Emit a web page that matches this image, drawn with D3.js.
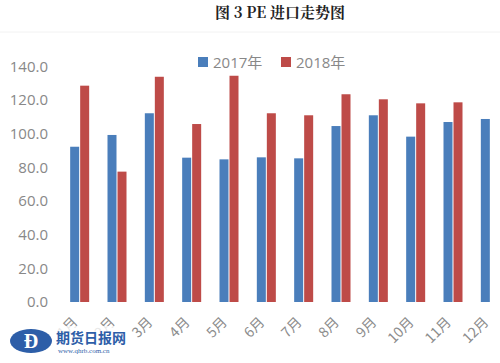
<!DOCTYPE html>
<html><head><meta charset="utf-8">
<script src="https://cdn.jsdelivr.net/npm/d3@7"></script>
<style>body{margin:0;background:#fff}svg{display:block}</style>
</head><body>
<svg id="c" width="500" height="363"></svg>
<script>
const months = ["1月","2月","3月","4月","5月","6月","7月","8月","9月","10月","11月","12月"];
const series2017 = [92.3,99.3,112.2,85.8,84.8,86.0,85.4,104.6,111.0,98.3,107.0,108.8];
const series2018 = [128.6,77.5,133.9,105.8,134.5,112.2,111.0,123.5,120.5,118.1,118.7,null];
const yTicks = [0,20,40,60,80,100,120,140];
const seriesNames = ["2017年","2018年"];
const colors = ["#4a7ebb","#be4b48"];

const svg = d3.select("#c");
const x = d3.scaleBand().domain(months).range([61,509]).paddingInner(0).paddingOuter(0);
const y = d3.scaleLinear().domain([0,140]).range([302,66.5]);
const bw = 9, gap = 1;

svg.append("text").attr("x",280).attr("y",18).attr("text-anchor","middle")
  .attr("font-family","'Noto Serif CJK SC','Noto Sans CJK SC',serif").attr("font-weight","bold")
  .attr("font-size",15).attr("fill","#222").text("图 3 PE 进口走势图");
svg.append("line").attr("x1",0).attr("x2",500).attr("y1",32).attr("y2",32).attr("stroke","#f2f2f2");

const yAxis = d3.axisLeft(y).tickValues(yTicks).tickFormat(d3.format(".1f")).tickSize(0).tickPadding(0);
const ga = svg.append("g").attr("transform","translate(48,0)").call(yAxis);
ga.select(".domain").remove();
ga.selectAll("text").attr("font-family","'Open Sans','Liberation Sans',sans-serif").attr("font-size",15).attr("fill","#888");

const g = svg.append("g");
months.forEach((m,i)=>{
  const c = x(m)+x.bandwidth()/2;
  [series2017[i],series2018[i]].forEach((v,k)=>{
    if(v==null) return;
    g.append("rect").attr("x", k===0 ? c-bw-gap/2 : c+gap/2).attr("width",bw)
      .attr("y",y(v)).attr("height",y(0)-y(v)).attr("fill",colors[k]);
  });
});

const xAxis = d3.axisBottom(x).tickSize(0).tickPadding(0);
const gx = svg.append("g").attr("transform","translate(0,302)").call(xAxis);
gx.select(".domain").remove();
gx.selectAll("text").attr("font-family","'Noto Sans CJK SC',sans-serif").attr("font-size",14).attr("fill","#8c8c8c")
  .attr("text-anchor","end").attr("dy",0).attr("transform","translate(-1,21) rotate(-45)");

// legend
const lg = svg.append("g").attr("font-family","'Open Sans','Noto Sans CJK SC',sans-serif").attr("font-size",15).attr("fill","#888");
const lx = [198,281];
seriesNames.forEach((n,k)=>{
  lg.append("rect").attr("x",lx[k]).attr("y",57).attr("width",10).attr("height",10).attr("fill",colors[k]);
  lg.append("text").attr("x",lx[k]+15).attr("y",67.5).text(n);
});

// watermark logo
const wm = svg.append("g");
wm.append("rect").attr("x",0).attr("y",326).attr("width",128).attr("height",37).attr("fill","#fff").attr("opacity",0.8);
wm.append("ellipse").attr("cx",31).attr("cy",341).attr("rx",21).attr("ry",12).attr("fill","#2d5ea8");
wm.append("text").attr("x",31).attr("y",348).attr("text-anchor","middle").attr("font-family","'Liberation Serif',serif")
  .attr("font-weight","bold").attr("font-size",20).attr("fill","#fff").text("Ð");
wm.append("text").attr("x",56).attr("y",343).attr("font-family","'Noto Sans CJK SC',sans-serif").attr("font-weight","bold")
  .attr("font-size",14).attr("fill","#2d5ea8").text("期货日报网");
wm.append("text").attr("x",58).attr("y",353).attr("font-family","'Liberation Serif',serif")
  .attr("font-size",7).attr("fill","#2d5ea8").text("www.qhrb.com.cn");
</script>
</body></html>
